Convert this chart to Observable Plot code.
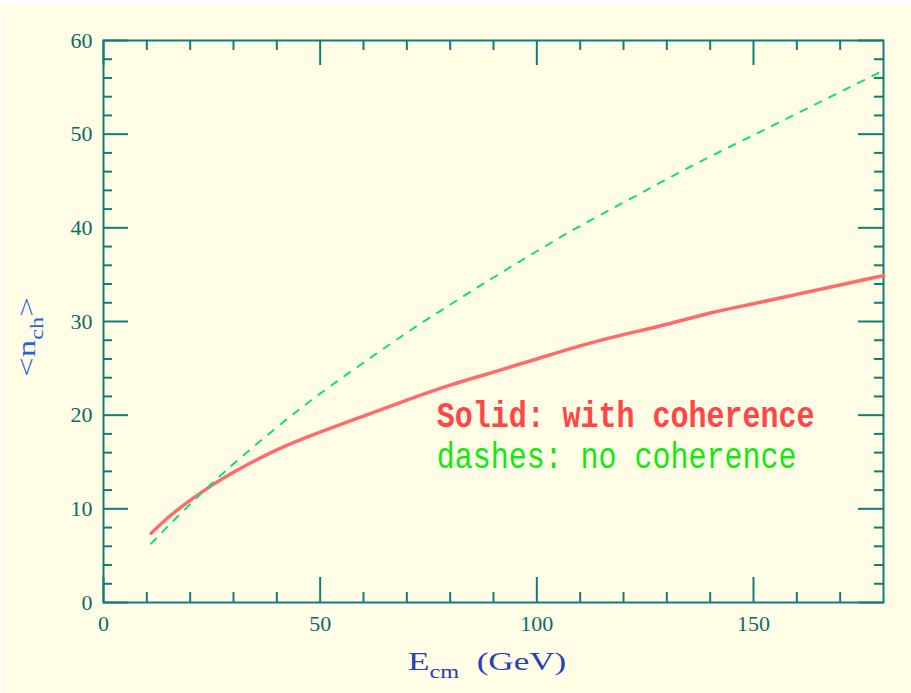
<!DOCTYPE html>
<html><head><meta charset="utf-8">
<script src="https://cdn.jsdelivr.net/npm/d3@7"></script>
<script src="https://cdn.jsdelivr.net/npm/@observablehq/plot@0.6"></script>
<style>
html,body{margin:0;padding:0;background:#ffffff;}
#chart{position:absolute;left:2px;top:5px;}
</style></head><body><div id="chart"></div>
<script>
// Data
const energy = [11,15,20,25,30,40,50,60,70,80,90,100,110,120,130,140,150,160,170,180];
const withCoherence = [7.4,9.1,10.9,12.5,13.9,16.3,18.2,19.9,21.6,23.2,24.6,26.0,27.4,28.6,29.7,30.9,31.9,32.9,33.9,34.9];
const noCoherence   = [6.3,8.2,10.5,12.7,14.8,18.7,22.3,25.6,28.8,31.8,34.7,37.5,40.2,42.7,45.2,47.6,49.9,52.2,54.5,56.8];
const xMajorTicks = [0,50,100,150];
const xMinorTicks = [10,20,30,40,60,70,80,90,110,120,130,140,160,170];
const yMajorTicks = [0,10,20,30,40,50,60];
const yMinorTicks = [2,4,6,8,12,14,16,18,22,24,26,28,32,34,36,38,42,44,46,48,52,54,56,58];
const legendLabels = ["Solid: with coherence", "dashes: no coherence"];
const legendPos = [{x: 77, y: 18.7}, {x: 77, y: 14.3}];

const axisColor = "#107d78";
const labelColor = "#0d6b66";
const redLine = "#ff6b6b";
const greenLine = "#10e070";

const W = 909, H = 688, ML = 101, MR = 28, MT = 35, MB = 91;
const PW = W - ML - MR, PH = H - MT - MB;
const MAJ = 25, MIN = 9;

const solidRows = energy.map((e, i) => ({e, n: withCoherence[i]}));
const dashRows = energy.map((e, i) => ({e, n: noCoherence[i]}));

const tk = {stroke: axisColor, strokeWidth: 2};
const plot = Plot.plot({
  width: W,
  height: H,
  marginLeft: ML,
  marginRight: MR,
  marginTop: MT,
  marginBottom: MB,
  style: {background: "#fffde6", overflow: "visible"},
  x: {domain: [0, 180], axis: null},
  y: {domain: [0, 60], axis: null},
  marks: [
    // inward ticks on all four sides
    Plot.ruleX(xMajorTicks, {...tk, insetTop: PH - MAJ}),
    Plot.ruleX(xMinorTicks, {...tk, insetTop: PH - MIN - 1}),
    Plot.ruleX(xMajorTicks, {...tk, insetBottom: PH - MAJ}),
    Plot.ruleX(xMinorTicks, {...tk, insetBottom: PH - MIN - 1}),
    Plot.ruleY(yMajorTicks, {...tk, insetRight: PW - MAJ}),
    Plot.ruleY(yMinorTicks, {...tk, insetRight: PW - MIN}),
    Plot.ruleY(yMajorTicks, {...tk, insetLeft: PW - MAJ}),
    Plot.ruleY(yMinorTicks, {...tk, insetLeft: PW - MIN}),
    Plot.axisX(xMajorTicks, {anchor: "bottom", tickSize: 0, tickPadding: 13, fontSize: 22, fontFamily: "Liberation Serif", fill: labelColor, label: null}),
    Plot.axisY(yMajorTicks, {anchor: "left", tickSize: 0, tickPadding: 11, fontSize: 22, fontFamily: "Liberation Serif", fill: labelColor, label: null}),
    Plot.frame({stroke: axisColor, strokeWidth: 2}),
    Plot.line(solidRows, {x: "e", y: "n", stroke: redLine, strokeWidth: 3.5, curve: "natural"}),
    Plot.line(dashRows, {x: "e", y: "n", stroke: greenLine, strokeWidth: 2, strokeDasharray: "7,9", curve: "natural"})
  ]
});
document.getElementById("chart").appendChild(plot);

const svg = d3.select(plot);
const sx = plot.scale("x"), sy = plot.scale("y");
// Legend texts
const legendColors = ["#ff4545", "#12e812"];
const legendWeights = ["bold", "normal"];
legendLabels.forEach((t, i) => {
  svg.append("text")
    .attr("transform", `translate(${sx.apply(legendPos[i].x)},${sy.apply(legendPos[i].y)}) scale(1,1.25)`)
    .attr("text-anchor", "start")
    .attr("font-family", "Liberation Mono")
    .attr("font-size", 30)
    .attr("font-weight", legendWeights[i])
    .attr("fill", legendColors[i])
    .text(t);
});
// X axis title
const xt = svg.append("text")
  .attr("transform", "translate(406,665) scale(1.35,1)")
  .attr("text-anchor", "start")
  .attr("font-family", "Liberation Serif")
  .attr("font-size", 26)
  .attr("fill", "#2840b8")
  .attr("xml:space", "preserve");
xt.append("tspan").text("E");
xt.append("tspan").attr("font-size", 18).attr("dy", 8).text("cm");
xt.append("tspan").attr("dy", -8).text("  (GeV)");
// Y axis title
const yt = svg.append("text")
  .attr("transform", "translate(33,332) rotate(-90) scale(1.35,1)")
  .attr("text-anchor", "middle")
  .attr("font-family", "Liberation Serif")
  .attr("font-size", 26)
  .attr("fill", "#3060d8");
yt.append("tspan").text("<n");
yt.append("tspan").attr("font-size", 18).attr("dy", 8).text("ch");
yt.append("tspan").attr("dy", -8).text(">");
</script></body></html>
